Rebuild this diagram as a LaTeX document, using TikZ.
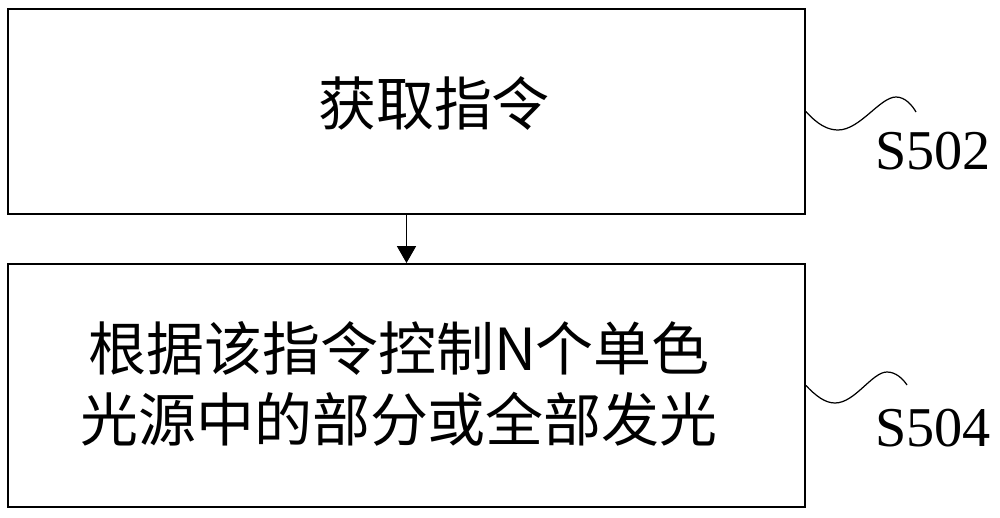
\documentclass[tikz,border=0pt]{standalone}
\usepackage{fontspec}
\setmainfont{Liberation Serif}
\newfontfamily\cjk{Noto Sans CJK SC}
\usetikzlibrary{arrows.meta,positioning}

\begin{document}
\begin{tikzpicture}[x=0.02cm,y=-0.02cm,
    stepbox/.style={draw,line width=1.1pt,inner sep=0pt},
    steptext/.style={font=\cjk\fontsize{33}{40}\selectfont,align=center,inner sep=0pt},
    steplabel/.style={font=\fontsize{32}{36}\selectfont,inner sep=0pt},
    wave/.style={line width=0.7pt}]
  \useasboundingbox (0,0) rectangle (1000,517);

  % boxes
  \node[stepbox,minimum width=15.94cm,minimum height=4.1cm] (s502) at (406.5,111.5) {};
  \node[stepbox,minimum width=15.94cm,minimum height=4.86cm] (s504) at (406.5,385.5) {};
  \node[steptext] (t502) at (434,103) {获取指令};
  \node[steptext] (t504) at (399,384) {根据该指令控制N个单色\\光源中的部分或全部发光};

  % arrow
  \draw[line width=0.6pt,-{Triangle[width=10.8pt,length=9.6pt]}] (s502.south) -- (s504.north);

  % step labels
  \coordinate (w502) at (916,112);
  \coordinate (w504) at (907,385);
  \draw[wave] (s502.east) .. controls (818,125) and (828,130) .. (838,130)
    .. controls (860,130) and (880,97) .. (896,97)
    .. controls (905,97) and (912,105) .. (w502);
  \draw[wave] (s504.east) .. controls (816,396) and (825,403) .. (835,403)
    .. controls (855,403) and (872,372) .. (887,372)
    .. controls (896,372) and (903,379) .. (w504);
  \node[steplabel] (l502) at (933,151) {S502};
  \node[steplabel] (l504) at (933,428) {S504};
\end{tikzpicture}
\end{document}
